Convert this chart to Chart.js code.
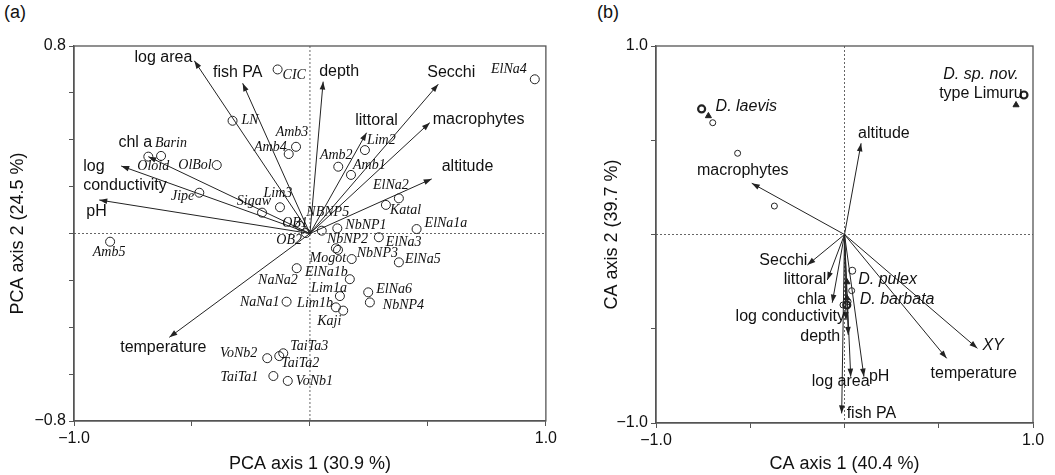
<!DOCTYPE html>
<html>
<head>
<meta charset="utf-8">
<script src="https://cdn.jsdelivr.net/npm/chart.js@4.4.1/dist/chart.umd.min.js"></script>
<style>
  body { margin: 0; background: #fff; width: 1055px; height: 475px; position: relative; overflow: hidden;
         font-family: "Liberation Sans", Arial, sans-serif; color: #111; }
  .tag { position: absolute; top: 2px; font-size: 18px; }
  canvas { position: absolute; top: 0; }
</style>
</head>
<body>
<div class="tag" style="left:4px">(a)</div>
<div class="tag" style="left:597px">(b)</div>
<canvas id="pca" width="560" height="475" style="left:0"></canvas>
<canvas id="ca" width="465" height="475" style="left:590px"></canvas>
<script>
// ---- (a) PCA: environmental variables (arrows) and sites (circles)
const pcaVarNames = ['log area', 'fish PA', 'depth', 'Secchi', 'littoral', 'macrophytes', 'altitude',
                     'chl a', 'log\nconductivity', 'pH', 'temperature'];
const pcaVarX = [-0.490, -0.285, 0.056, 0.544, 0.240, 0.508, 0.516, -0.685, -0.800, -0.893, -0.596];
const pcaVarY = [0.737, 0.641, 0.648, 0.637, 0.430, 0.473, 0.233, 0.328, 0.288, 0.143, -0.443];

const pcaSiteNames = ['CIC', 'LN', 'Amb3', 'Amb4', 'Barin', 'Oloid', 'OlBol', 'Jipe', 'Sigaw', 'Lim3',
                      'OB1', 'OB2', 'NBNP5', 'NbNP1', 'NbNP2', 'Mogot', 'NbNP3', 'ElNa3', 'ElNa1a', 'ElNa5',
                      'Katal', 'ElNa2', 'Amb2', 'Amb1', 'Lim2', 'ElNa4', 'ElNa1b', 'NaNa2', 'Lim1a', 'Lim1b',
                      'Kaji', 'NaNa1', 'ElNa6', 'NbNP4', 'TaiTa3', 'TaiTa2', 'VoNb2', 'TaiTa1', 'VoNb1', 'Amb5'];
const pcaSiteX = [-0.137, -0.328, -0.059, -0.090, -0.631, -0.685, -0.395, -0.469, -0.203, -0.127,
                  -0.042, -0.017, 0.050, 0.116, 0.110, 0.119, 0.177, 0.292, 0.452, 0.377,
                  0.322, 0.377, 0.120, 0.174, 0.233, 0.953, 0.169, -0.056, 0.127, 0.110,
                  0.141, -0.099, 0.247, 0.254, -0.113, -0.130, -0.181, -0.155, -0.094, -0.847];
const pcaSiteY = [0.700, 0.481, 0.370, 0.339, 0.331, 0.328, 0.292, 0.174, 0.089, 0.112,
                  0.032, 0.002, 0.012, 0.022, -0.063, -0.070, -0.109, -0.016, 0.019, -0.123,
                  0.122, 0.150, 0.285, 0.250, 0.356, 0.658, -0.195, -0.148, -0.267, -0.315,
                  -0.329, -0.291, -0.251, -0.294, -0.511, -0.523, -0.532, -0.608, -0.629, -0.035];

// ---- (b) CA: variables (arrows), species and sites
const caVarNames = ['macrophytes', 'altitude', 'Secchi', 'littoral', 'chla', 'log conductivity', 'depth',
                    'log area', 'pH', 'fish PA', 'temperature', 'XY'];
const caVarX = [-0.492, 0.088, -0.197, -0.091, -0.065, 0.008, 0.020, 0.033, 0.103, -0.015, 0.542, 0.705];
const caVarY = [0.272, 0.484, -0.162, -0.241, -0.362, -0.454, -0.533, -0.754, -0.754, -0.949, -0.657, -0.604];

const caSpeciesNames = ['D. laevis', 'D. sp. nov.', 'D. pulex', 'D. barbata'];
const caSpeciesNotes = ['', 'type Limuru', '', ''];
const caSpeciesX = [-0.758, 0.952, 0.041, 0.012];
const caSpeciesY = [0.666, 0.740, -0.192, -0.374];
const caTriX = [-0.722, 0.910, 0.013, 0.013];
const caTriY = [0.629, 0.687, -0.252, -0.337];
const caSiteX = [-0.699, -0.567, -0.372, 0.038, 0.019, -0.008];
const caSiteY = [0.593, 0.431, 0.151, -0.298, -0.356, -0.374];

// label placement: [align, dx, dy] in pixels from the mark
const pcaVarTags = [['right', -2, -3], ['center', -5, -11], ['left', -4, -10], ['center', 13, -12],
                    ['center', 10, -12], ['left', 3, -3], ['left', 10, -12], ['center', -13, -14],
                    ['left', -38, 1], ['left', -13, 12], ['center', -6, 10]];
const pcaSiteTags = [['left', 5, 6], ['left', 9, 0], ['center', -4, -14], ['right', -2, -7], ['left', -6, -13],
                     ['left', -11, 10], ['right', -5, 0], ['right', -5, 4], ['right', 9, -11], ['center', -2, -14],
                     ['center', -5, -3], ['right', -4, 7], ['center', 6, -18], ['left', 8, -3], ['left', -9, -9],
                     ['right', 8, 8], ['left', 5, -6], ['left', 7, 5], ['left', 8, -6], ['left', 6, -3],
                     ['left', 4, 5], ['center', -8, -13], ['center', -2, -11], ['left', 2, -10], ['left', 2, -10],
                     ['right', -8, -10], ['right', -2, -7], ['right', 1, 12], ['right', 7, -8], ['right', -3, -4],
                     ['center', -14, 11], ['right', -7, 1], ['left', 8, -3], ['left', 13, 3], ['left', 7, -7],
                     ['left', 2, 7], ['right', -10, -5], ['right', -15, 1], ['left', 8, 0], ['center', -1, 11]];
const caVarTags = [['center', -9, -13], ['left', -3, -10], ['right', 0, -4], ['right', -1, 0], ['right', -6, -3],
                   ['right', -1, -3], ['right', -8, 2], ['center', -10, 5], ['left', 5, 0], ['left', 5, 0],
                   ['center', 27, 15], ['left', 5, -3]];
const caSpeciesTags = [['left', 14, -2], ['center', -43, -20], ['left', 6, 9], ['left', 13, -5]];

const SANS = '"Liberation Sans", Arial, sans-serif';
const SERIF = '"Liberation Serif", "Times New Roman", serif';
const INK = '#222';

function fmt(v) {
  return (v < 0 ? '\u2212' : '') + Math.abs(v).toFixed(1);
}

function axis(min, max, step, title, size, pad) {
  return {
    type: 'linear', min: min, max: max,
    ticks: {
      stepSize: step, padding: 3, color: '#111', font: { size: 16, family: SANS },
      maxRotation: 0, autoSkip: false,
      callback: v => (Math.abs(v - min) < 1e-6 || Math.abs(v - max) < 1e-6) ? fmt(v) : ''
    },
    grid: { display: true, drawOnChartArea: false, drawTicks: true, tickLength: 5, color: '#555' },
    border: { display: true, color: '#555', width: 1.3 },
    title: { display: true, text: title, color: '#111', font: { size: 18, family: SANS },
             padding: { top: pad, bottom: 0 } },
    afterFit: s => { if (s.isHorizontal()) s.height = size; else s.width = size; }
  };
}

function arrows(names, xs, ys, tags, italic) {
  return names.map((n, i) => ({
    data: [{ x: 0, y: 0 }, { x: xs[i], y: ys[i] }],
    showLine: true, borderColor: INK, borderWidth: 1, pointRadius: 0, arrow: true,
    tags: [null, [n].concat(tags[i])],
    tagFont: (italic && italic(n) ? 'italic ' : '') + '16px ' + SANS
  }));
}

function points(xs, ys) {
  return xs.map((x, i) => ({ x: x, y: ys[i] }));
}

const decor = {
  id: 'decor',
  beforeDatasetsDraw(chart) {
    const { ctx, chartArea: a, scales: { x, y } } = chart;
    const x0 = x.getPixelForValue(0), y0 = y.getPixelForValue(0);
    ctx.save();
    ctx.strokeStyle = '#666';
    ctx.lineWidth = 1;
    ctx.setLineDash([2, 2]);
    ctx.beginPath();
    ctx.moveTo(x0, a.top); ctx.lineTo(x0, a.bottom);
    ctx.moveTo(a.left, y0); ctx.lineTo(a.right, y0);
    ctx.stroke();
    ctx.restore();
  },
  afterDatasetsDraw(chart) {
    const ctx = chart.ctx;
    ctx.save();
    chart.data.datasets.forEach((ds, i) => {
      const pts = chart.getDatasetMeta(i).data;
      if (ds.arrow) {
        const p0 = pts[0], p1 = pts[1];
        const a = Math.atan2(p1.y - p0.y, p1.x - p0.x);
        const L = 8, W = 2.8;
        ctx.fillStyle = INK;
        ctx.beginPath();
        ctx.moveTo(p1.x, p1.y);
        ctx.lineTo(p1.x - L * Math.cos(a) + W * Math.sin(a), p1.y - L * Math.sin(a) - W * Math.cos(a));
        ctx.lineTo(p1.x - L * Math.cos(a) - W * Math.sin(a), p1.y - L * Math.sin(a) + W * Math.cos(a));
        ctx.closePath();
        ctx.fill();
      }
      if (!ds.tags) return;
      ctx.fillStyle = '#111';
      ctx.textBaseline = 'middle';
      ds.tags.forEach((t, j) => {
        if (!t) return;
        const p = pts[j];
        ctx.font = ds.tagFont;
        ctx.textAlign = t[1];
        t[0].split('\n').forEach((line, k) => {
          ctx.fillText(line, p.x + t[2], p.y + t[3] + k * 19);
        });
        if (ds.notes && ds.notes[j]) {
          ctx.font = '16px ' + SANS;
          ctx.fillText(ds.notes[j], p.x + t[2], p.y + t[3] + 19);
        }
      });
    });
    ctx.restore();
  },
  afterDraw(chart) {
    const { ctx, chartArea: a } = chart;
    ctx.save();
    ctx.strokeStyle = '#555';
    ctx.lineWidth = 1.3;
    ctx.strokeRect(a.left, a.top, a.right - a.left, a.bottom - a.top);
    ctx.restore();
  }
};

function biplot(id, datasets, x, y, padding) {
  return new Chart(document.getElementById(id), {
    type: 'scatter',
    data: { datasets: datasets },
    options: {
      responsive: false, animation: false,
      layout: { padding: padding },
      plugins: { legend: { display: false }, tooltip: { enabled: false } },
      scales: { x: x, y: y }
    },
    plugins: [decor]
  });
}

// (a)
biplot('pca',
  arrows(pcaVarNames, pcaVarX, pcaVarY, pcaVarTags).concat([{
    data: points(pcaSiteX, pcaSiteY),
    pointRadius: 4.5, borderWidth: 1, borderColor: INK, backgroundColor: 'rgba(255,255,255,0)',
    tags: pcaSiteNames.map((n, i) => [n].concat(pcaSiteTags[i])),
    tagFont: 'italic 14px ' + SERIF
  }]),
  axis(-1, 1, 0.5, 'PCA axis 1 (30.9 %)', 54, 0),
  axis(-0.8, 0.8, 0.2, 'PCA axis 2 (24.5 %)', 74, 7),
  { left: 0, top: 46, right: 14, bottom: 0 });

// (b)
biplot('ca',
  arrows(caVarNames, caVarX, caVarY, caVarTags, n => n === 'XY').concat([
    {
      data: points(caSiteX, caSiteY),
      pointRadius: 3, borderWidth: 1, borderColor: INK, backgroundColor: 'rgba(255,255,255,0)'
    },
    {
      data: points(caTriX, caTriY),
      pointStyle: 'triangle', pointRadius: 3.5, borderWidth: 1, borderColor: INK, backgroundColor: INK
    },
    {
      data: points(caSpeciesX, caSpeciesY),
      pointRadius: 3.5, borderWidth: [2.2, 2.2, 1, 2.2], borderColor: INK, backgroundColor: 'rgba(255,255,255,0)',
      tags: caSpeciesNames.map((n, i) => [n].concat(caSpeciesTags[i])),
      notes: caSpeciesNotes,
      tagFont: 'italic 16px ' + SANS
    }
  ]),
  axis(-1, 1, 0.5, 'CA axis 1 (40.4 %)', 52, 0),
  axis(-1, 1, 0.5, 'CA axis 2 (39.7 %)', 66, 11),
  { left: 0, top: 46, right: 22, bottom: 0 });
</script>
</body>
</html>
